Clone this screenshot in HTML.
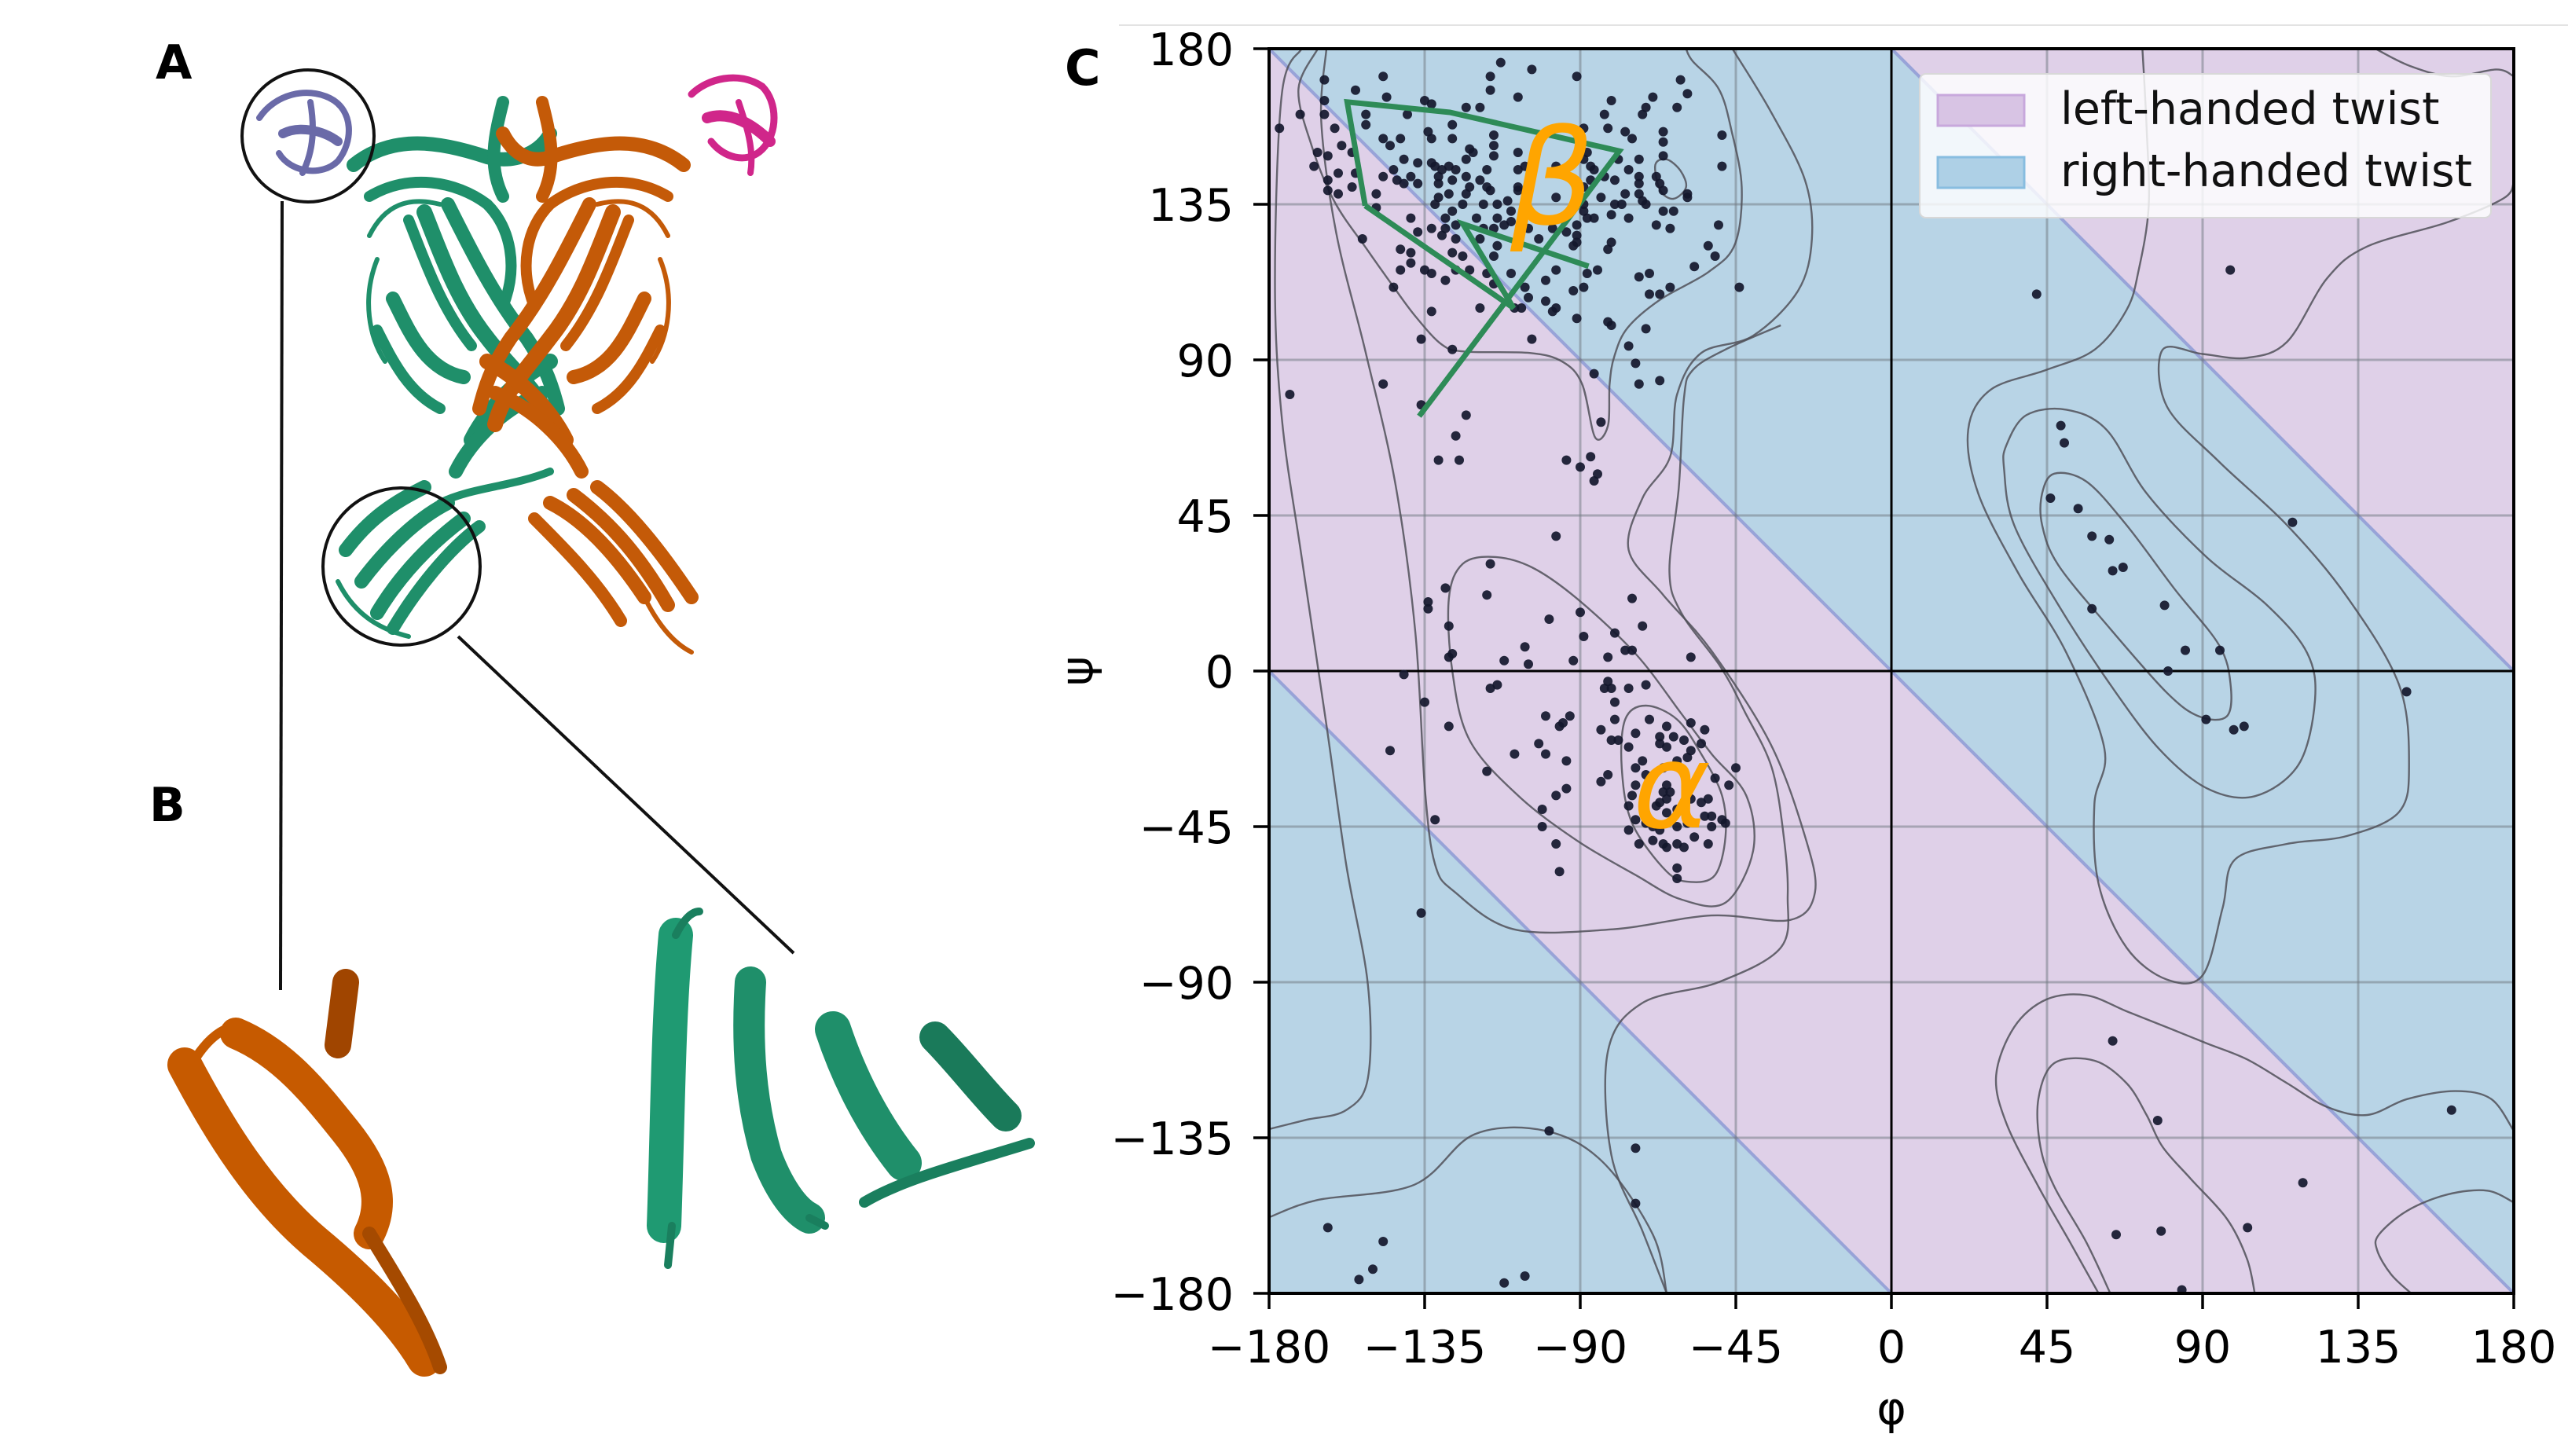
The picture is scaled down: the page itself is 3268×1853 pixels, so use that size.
<!DOCTYPE html>
<html><head><meta charset="utf-8"><style>
html,body{margin:0;padding:0;background:#fff;}
svg{display:block;}
text{font-family:"DejaVu Sans","Liberation Sans",sans-serif;}
</style></head><body>
<svg id="fig" width="3268" height="1853" viewBox="0 0 3268 1853" xmlns="http://www.w3.org/2000/svg">
<rect x="0" y="0" width="3268" height="1853" fill="#fff"/>
<line x1="1424" y1="32" x2="3268" y2="32" stroke="#e3e3e3" stroke-width="2"/>

<g id="panelA">
  <text x="198" y="100" font-size="60" font-weight="bold">A</text>
  <text x="190" y="1045" font-size="60" font-weight="bold">B</text>
  <g fill="none" stroke-linecap="round" stroke-linejoin="round">
    <g stroke="#1f8f6a">
      <path d="M450 210 C500 170 560 180 620 200 C660 210 690 190 700 170" stroke-width="18"/>
      <path d="M470 250 C520 220 580 230 620 260 C650 290 660 340 640 390" stroke-width="14"/>
      <path d="M540 270 C560 320 580 380 620 430 C650 470 690 500 700 540" stroke-width="20"/>
      <path d="M570 260 C600 320 630 380 670 430 C690 460 700 480 710 520" stroke-width="18"/>
      <path d="M520 280 C540 330 560 390 600 440" stroke-width="14"/>
      <path d="M500 380 C520 420 540 470 590 480" stroke-width="18"/>
      <path d="M480 420 C500 460 520 500 560 520" stroke-width="14"/>
      <path d="M640 130 C630 170 620 210 640 250" stroke-width="16"/>
      <path d="M600 560 C620 520 660 480 700 460" stroke-width="20"/>
      <path d="M580 600 C600 560 640 520 690 500" stroke-width="18"/>
      <path d="M560 640 C600 620 650 620 700 600" stroke-width="10"/>
      <path d="M440 700 C470 660 500 640 540 620" stroke-width="18"/>
      <path d="M460 740 C490 700 530 660 570 640" stroke-width="18"/>
      <path d="M480 780 C510 730 550 690 590 660" stroke-width="18"/>
      <path d="M500 800 C530 750 570 700 610 670" stroke-width="16"/>
      <path d="M430 740 C450 780 480 800 520 810" stroke-width="6"/>
      <path d="M470 300 C490 260 520 250 560 260" stroke-width="6"/>
      <path d="M490 460 C470 430 460 380 480 330" stroke-width="6"/>
    </g>
    <g stroke="#c45a08">
      <path d="M870 210 C820 170 760 180 700 200 C670 210 650 190 640 170" stroke-width="18"/>
      <path d="M850 250 C800 220 740 230 700 260 C670 290 660 340 680 390" stroke-width="14"/>
      <path d="M780 270 C760 320 740 380 700 430 C670 470 640 500 630 540" stroke-width="20"/>
      <path d="M750 260 C720 320 690 380 650 430 C630 460 620 480 610 520" stroke-width="18"/>
      <path d="M800 280 C780 330 760 390 720 440" stroke-width="14"/>
      <path d="M820 380 C800 420 780 470 730 480" stroke-width="18"/>
      <path d="M840 420 C820 460 800 500 760 520" stroke-width="14"/>
      <path d="M690 130 C700 170 710 210 690 250" stroke-width="16"/>
      <path d="M720 560 C700 520 660 480 620 460" stroke-width="20"/>
      <path d="M740 600 C720 560 680 520 630 500" stroke-width="18"/>
      <path d="M700 640 C740 660 780 700 820 760" stroke-width="18"/>
      <path d="M730 630 C770 660 810 700 850 770" stroke-width="18"/>
      <path d="M760 620 C800 650 840 700 880 760" stroke-width="18"/>
      <path d="M680 660 C720 700 760 740 790 790" stroke-width="16"/>
      <path d="M820 760 C840 800 860 820 880 830" stroke-width="6"/>
      <path d="M850 300 C830 260 800 250 760 260" stroke-width="6"/>
      <path d="M830 460 C850 430 860 380 840 330" stroke-width="6"/>
    </g>
    <g stroke="#d0268a">
      <path d="M880 120 C900 100 940 90 970 110 C990 130 990 170 970 190 C950 210 920 200 905 180" stroke-width="9"/>
      <path d="M900 150 C930 140 960 160 980 180" stroke-width="14"/>
      <path d="M940 130 C950 160 960 190 955 220" stroke-width="8"/>
    </g>
    <g stroke="#6a6aa8">
      <path d="M330 150 C350 120 390 110 420 125 C450 140 450 180 430 205 C410 225 370 220 355 195" stroke-width="8"/>
      <path d="M360 170 C380 160 410 165 430 180" stroke-width="12"/>
      <path d="M395 130 C400 160 400 190 385 220" stroke-width="8"/>
    </g>
  </g>
  <circle cx="392" cy="173" r="84" fill="none" stroke="#111" stroke-width="4"/>
  <circle cx="511" cy="721" r="100" fill="none" stroke="#111" stroke-width="4"/>
  <line x1="359" y1="256" x2="357" y2="1260" stroke="#111" stroke-width="4"/>
  <line x1="583" y1="810" x2="1010" y2="1213" stroke="#111" stroke-width="4"/>
  <g fill="none" stroke-linecap="round">
    <path d="M235 1355 C280 1440 330 1520 400 1580 C460 1630 510 1680 540 1730" stroke="#c65a00" stroke-width="44"/>
    <path d="M300 1315 C360 1340 400 1390 440 1440 C480 1490 490 1530 470 1570" stroke="#c65a00" stroke-width="40"/>
    <path d="M250 1345 C270 1315 290 1305 310 1305" stroke="#c65a00" stroke-width="12"/>
    <path d="M470 1570 C500 1620 540 1680 560 1740" stroke="#a54a00" stroke-width="18"/>
    <path d="M440 1250 L430 1330" stroke="#a04500" stroke-width="34"/>
  </g>
  <g fill="none" stroke-linecap="round">
    <path d="M860 1190 C850 1300 850 1420 845 1560" stroke="#1f9a72" stroke-width="44"/>
    <path d="M855 1560 L850 1610" stroke="#1a7f5e" stroke-width="10"/>
    <path d="M860 1190 C870 1170 880 1160 890 1160" stroke="#1a7f5e" stroke-width="10"/>
    <path d="M955 1250 C950 1330 955 1400 975 1470 C990 1510 1010 1540 1030 1550" stroke="#1f8f6a" stroke-width="40"/>
    <path d="M1030 1550 L1050 1560" stroke="#1a7f5e" stroke-width="10"/>
    <path d="M1060 1310 C1080 1370 1110 1430 1150 1480" stroke="#1f8f6a" stroke-width="46"/>
    <path d="M1100 1530 C1150 1500 1230 1480 1310 1455" stroke="#1a7f5e" stroke-width="14"/>
    <path d="M1190 1320 C1220 1350 1250 1390 1280 1420" stroke="#1a7a5a" stroke-width="40"/>
  </g>
</g>

<g id="chart"></g>
</svg>
<script>
const categoriesX = [-180,-135,-90,-45,0,45,90,135,180];
const tickLabelsX = ["\u2212180","\u2212135","\u221290","\u221245","0","45","90","135","180"];
const categoriesY = [-180,-135,-90,-45,0,45,90,135,180];
const tickLabelsY = ["\u2212180","\u2212135","\u221290","\u221245","0","45","90","135","180"];
const legendLabels = ["left-handed twist","right-handed twist"];

const betaPoints = [[-164,171],[-155,168],[-147,172],[-146,166],[-164,165],[-171,161],[-177,157],[-164,161],[-161,157],[-152,161],[-152,158],[-135,165],[-133,164],[-140,161],[-123,163],[-119,163],[-116,172],[-116,168],[-113,176],[-104,174],[-108,166],[-91,172],[-81,165],[-69,166],[-71,163],[-72,161],[-61,171],[-59,167],[-62,163],[-83,161],[-89,157],[-82,157],[-77,156],[-75,154],[-66,156],[-66,153],[-49,155],[-49,146],[-66,149],[-73,148],[-76,145],[-73,143],[-68,143],[-67,141],[-66,139],[-73,141],[-73,138],[-72,136],[-71,135],[-59,138],[-59,137],[-66,133],[-63,133],[-68,129],[-64,128],[-50,129],[-53,123],[-51,120],[-57,117],[-44,111],[-64,111],[-67,109],[-70,109],[-73,114],[-70,115],[-71,99],[-76,94],[-74,89],[-73,83],[-67,84],[-84,72],[-86,86],[-81,100],[-82,101],[-91,102],[-98,104],[-97,105],[-100,107],[-92,110],[-89,111],[-88,115],[-85,116],[-100,113],[-105,108],[-106,111],[-97,116],[-110,115],[-107,105],[-109,105],[-104,96],[-119,105],[-133,104],[-136,96],[-127,93],[-147,83],[-174,80],[-136,77],[-123,74],[-126,68],[-131,61],[-125,61],[-94,61],[-90,59],[-87,62],[-85,57],[-86,55],
[-167,146],[-166,150],[-163,149],[-159,152],[-156,150],[-163,142],[-160,144],[-163,139],[-160,138],[-156,140],[-155,144],[-149,138],[-147,143],[-143,142],[-149,134],[-153,125],[-139,131],[-137,127],[-133,128],[-130,126],[-129,128],[-126,125],[-142,122],[-139,121],[-139,118],[-142,116],[-135,116],[-133,115],[-129,113],[-126,116],[-127,121],[-124,120],[-122,116],[-117,115],[-115,112],[-144,111],
[-147,154],[-145,152],[-142,154],[-141,148],[-137,147],[-134,156],[-133,154],[-127,158],[-127,154],[-123,148],[-122,151],[-121,150],[-115,155],[-115,152],[-115,149],[-108,150],[-117,145],[-123,143],[-133,147],[-132,146],[-130,145],[-128,146],[-126,145],[-127,142],[-131,143],[-139,143],[-137,141],[-141,141],[-144,145],[-131,141],[-131,137],[-128,138],[-123,138],[-119,142],[-117,140],[-116,139],[-124,135],[-127,133],[-132,135],[-129,131],[-126,129],[-120,131],[-118,135],[-114,135],[-111,136],[-110,133],[-114,131],[-112,129],[-115,128],[-110,130],[-108,145],[-106,146],[-108,140],[-108,139],[-118,128],[-119,125],[-114,123],[-115,120],[-105,128],[-102,125],[-98,128],[-94,127],[-91,129],[-91,126],[-92,123],[-91,124],[-97,137],[-97,146],[-89,140],[-87,146],[-87,142],[-86,145],[-83,143],[-80,142],[-80,135],[-78,135],[-84,137],[-86,131],[-81,132],[-76,131],[-81,124],[-82,122],[-89,135],[-89,133],[-88,131],[-77,138],[-88,150],[-89,148],[-79,148],[-122,140]];

const alphaPoints = [[-97,39],[-116,31],[-129,24],[-117,22],[-134,20],[-134,18],[-128,13],[-127,5],[-128,4],[-112,3],[-106,7],[-105,2],[-99,15],[-90,17],[-89,10],[-92,3],[-80,11],[-82,4],[-77,6],[-75,6],[-75,21],[-72,13],[-58,4],[-141,-1],[-135,-9],[-128,-16],[-145,-23],[-116,-5],[-114,-4],[-100,-13],[-96,-16],[-93,-13],[-95,-15],[-102,-21],[-100,-24],[-109,-24],[-94,-26],[-117,-29],[-82,-30],[-84,-32],[-94,-34],[-97,-36],[-101,-40],[-101,-45],[-97,-50],[-96,-58],[-132,-43],[-136,-70],[-82,-3],[-81,-5],[-83,-5],[-76,-5],[-71,-4],[-80,-9],[-80,-14],[-84,-17],[-81,-20],[-79,-20],[-76,-22],[-74,-18],[-70,-14],[-65,-16],[-58,-15],[-54,-17],[-55,-21],[-67,-19],[-63,-19],[-60,-20],[-67,-21],[-65,-22],[-58,-23],[-59,-25],[-62,-26],[-72,-26],[-74,-28],[-71,-30],[-66,-28],[-65,-33],[-66,-35],[-64,-35],[-67,-38],[-65,-37],[-62,-40],[-65,-41],[-68,-39],[-74,-33],[-75,-36],[-76,-39],[-74,-43],[-71,-44],[-69,-45],[-67,-46],[-62,-45],[-59,-44],[-55,-38],[-53,-37],[-54,-42],[-52,-42],[-52,-45],[-49,-43],[-48,-44],[-51,-31],[-47,-33],[-45,-28],[-76,-46],[-73,-50],[-69,-49],[-66,-50],[-65,-51],[-62,-50],[-60,-51],[-57,-48],[-53,-50],[-62,-57],[-62,-60],[-58,-37]];

const otherPoints = [[42,109],[98,116],[49,71],[50,66],[46,50],[54,47],[58,39],[63,38],[64,29],[67,30],[58,18],[79,19],[85,6],[95,6],[80,0],[91,-14],[99,-17],[102,-16],[116,43],[149,-6],[64,-107],[77,-130],[119,-148],[103,-161],[78,-162],[65,-163],[84,-179],[162,-127],[-99,-133],[-74,-138],[-74,-154],[-163,-161],[-147,-165],[-150,-173],[-154,-176],[-112,-177],[-106,-175]];

const contourL1 = [[-170.6,180],[-176.3,167],[-178.3,113],[-176.3,73],[-170.6,33],[-163.4,-15.6],[-157.7,-55.9],[-151.4,-90.8],[-151.4,-117.7],[-157.7,-127],[-169.2,-129.8],[-180,-132.5]];
const contourL2 = [[-163.4,180],[-164.9,159],[-160.6,126.8],[-152,91.9],[-143.5,54.3],[-137.7,11.3],[-134.9,-34.4],[-132,-55.9],[-126.3,-63.9],[-109.2,-74.7],[-80.6,-74.7],[-52.1,-70.7],[-29.3,-72],[-22.1,-63.9],[-25,-47.8],[-35,-21],[-52.1,5.9],[-66,22],[-76,35],[-72,50],[-64,62],[-62,80],[-55,92],[-40,97],[-27,110],[-23,125],[-25,142],[-35,162],[-46,180]];
const contourL3 = [[-32,100],[-48,93],[-57.5,87],[-60,79],[-61.5,53],[-64.2,28.8],[-60.7,16.7],[-49.4,1.2],[-42.4,-11.8],[-34.6,-28],[-31.1,-48.3],[-30,-65],[-32,-80],[-50,-90],[-72,-96],[-82,-110],[-81,-140],[-72,-162],[-65,-180]];
const contourBetaOuter = [[-165.9,180],[-171.5,168.3],[-167.7,152],[-161.1,135.8],[-151.7,122],[-144.2,111.4],[-137.6,102.5],[-130,94.4],[-123.4,92.4],[-104.6,92],[-95.2,89.5],[-89.5,83.1],[-85.7,67.6],[-82,70.9],[-81.5,83.1],[-80.1,91.2],[-76.3,99.3],[-66.9,107.4],[-52.8,115.5],[-45.2,123.6],[-43.3,139.9],[-46.2,156.1],[-49.9,168.3],[-57.5,176.4],[-59.4,180]];
const contourBetaInner = [[-68.3,146.4],[-65,148],[-61,144.7],[-59.4,139.9],[-63.1,136.6],[-66.9,139.1]];
const contourAlpha1 = [[-71,-10],[-77,-14],[-78,-28],[-75,-44],[-65,-58],[-58,-61],[-51,-59],[-48,-48],[-49,-36],[-55,-24],[-62,-14]];
const contourAlpha2 = [[-115,33],[-124,31],[-128,21],[-127,0],[-122,-20],[-108,-36],[-91,-49],[-74,-59],[-61,-66],[-48,-67],[-40,-52],[-42,-36],[-52,-24],[-61,-12],[-74,5],[-91,21],[-104,30]];
const contourLBottom = [[-180,-158],[-166,-153],[-138,-148.6],[-120.6,-134],[-100,-133],[-83.5,-142],[-69,-163],[-65,-180]];
const contourR1 = [[43.6,51.4],[47.1,57.1],[56.4,54.8],[68,42.2],[81.9,23.7],[94.7,7.6],[98.1,-3.9],[97,-13.1],[88.9,-13.1],[79.6,-6.2],[63.3,12.2],[48.3,30.6],[43.6,42.2]];
const contourR2 = [[33.2,65.2],[39,74],[50.6,75.6],[62.2,69.8],[73.8,51.4],[91.2,32.9],[108.6,19.1],[120.2,5.3],[122.5,-8.5],[117.8,-27],[105.1,-36.2],[91.2,-33.9],[77.3,-22.4],[63.3,-3.9],[48.3,19.1],[35.5,42.2],[32.6,58.3]];
const contourR3 = [[72.6,180],[73.8,157.4],[74.4,134.4],[71.5,115.9],[68,104.4],[58.7,92.9],[44.8,87.1],[28.6,81.3],[22.2,69.8],[25.1,51.4],[36.7,28.3],[50.6,5.3],[61.6,-22.4],[58.7,-38.5],[59.9,-61.5],[68,-80],[79.6,-89.2],[90,-88],[95.8,-68.5],[99.3,-54.6],[114.4,-50],[131.8,-47.7],[146.8,-40.8],[149.7,-27],[146.8,-3.9],[131.8,21.4],[114.4,42.2],[94.7,60.6],[79.6,76.7],[78.4,92.9],[90,91.7],[102.8,90.6],[114.4,95.2],[126,113.6],[137.6,122.8],[160.8,129.8],[177,136.7],[180,141.3]];
const contourRb1 = [[59.9,-180],[51.7,-165.3],[42.5,-149.1],[33.2,-130.7],[30.3,-116.9],[35.5,-103],[44.8,-95],[56.4,-93.8],[68,-98.4],[79.6,-103],[91.2,-107.7],[102.8,-112.3],[114.4,-119.2],[126,-126.1],[137.6,-128.4],[149.2,-123.8],[163.1,-121.5],[173.5,-123.8],[180,-133]];
const contourRb2 = [[63.3,-180],[56.4,-165.3],[47.1,-149.1],[43.1,-137.6],[42.5,-123.8],[47.1,-113.4],[58.7,-112.7],[68,-119.2],[73.8,-128.4],[78.4,-137.6],[86.5,-146.8],[97,-158.4],[102.8,-169.9],[105.1,-180]];
const contourRb3 = [[180,-153.7],[172.3,-150.3],[160.8,-151.4],[149.2,-156.1],[141,-163],[140.5,-167.6],[144.5,-174.5],[150.3,-180]];
const contourTR = [[140,180],[150,175],[162,172],[175,174],[180,172]];

const greenPath1 = [[-152.2,134.6],[-157.4,164.6],[-127.7,161.6],[-78.7,150.4],[-136.6,73.7]];
const greenPath2 = [[-152.2,134.6],[-109.3,105],[-123.9,129.3],[-87.6,117.1]];

const L=1615, T=62, S=4.4;
function X(phi){return L+(phi+180)*S;}
function Y(psi){return T+(180-psi)*S;}
const NS="http://www.w3.org/2000/svg";
const chart=document.getElementById('chart');
function mk(tag,attrs,parent){const e=document.createElementNS(NS,tag);for(const k in attrs)e.setAttribute(k,attrs[k]);(parent||chart).appendChild(e);return e;}
function poly(pts){return pts.map(p=>X(p[0]).toFixed(1)+','+Y(p[1]).toFixed(1)).join(' ');}
function smooth(pts,closed){
  const P=pts.map(p=>[X(p[0]),Y(p[1])]);const n=P.length;
  let d='M'+P[0][0].toFixed(1)+' '+P[0][1].toFixed(1);
  const last=closed?n:n-1;
  for(let i=0;i<last;i++){
    const p0=P[closed?(i-1+n)%n:Math.max(i-1,0)],p1=P[i],p2=P[(i+1)%n],p3=P[closed?(i+2)%n:Math.min(i+2,n-1)];
    const c1=[p1[0]+(p2[0]-p0[0])/6,p1[1]+(p2[1]-p0[1])/6],c2=[p2[0]-(p3[0]-p1[0])/6,p2[1]-(p3[1]-p1[1])/6];
    d+=' C'+c1.map(v=>v.toFixed(1)).join(' ')+' '+c2.map(v=>v.toFixed(1)).join(' ')+' '+p2[0].toFixed(1)+' '+p2[1].toFixed(1);
  }
  return d+(closed?'Z':'');
}
const PINK="#dfd0e8", BLUE="#b8d4e6";
const defs=mk('defs',{});
const cp=mk('clipPath',{id:'plotclip'},defs);
mk('rect',{x:L,y:T,width:360*S,height:360*S},cp);

const regions=[
 [[-180,180],[0,180],[0,0],BLUE,'right-handed-region-tl'],
 [[-180,180],[-180,0],[0,0],PINK,'left-handed-region-tl'],
 [[-180,0],[0,0],[0,-180],PINK,'left-handed-region-bl'],
 [[-180,0],[-180,-180],[0,-180],BLUE,'right-handed-region-bl'],
 [[0,0],[180,0],[0,180],BLUE,'right-handed-region-tr'],
 [[0,180],[180,180],[180,0],PINK,'left-handed-region-tr'],
 [[0,0],[180,0],[180,-180],BLUE,'right-handed-region-br'],
 [[0,0],[0,-180],[180,-180],PINK,'left-handed-region-br']];
for(const r of regions){
  const e=mk('polygon',{points:poly(r.slice(0,3)),fill:r[3]});
  
  
}
const diags=[[[-180,180],[0,0]],[[-180,0],[0,-180]],[[0,180],[180,0]],[[0,0],[180,-180]]];
for(const d of diags){
  const e=mk('line',{x1:X(d[0][0]),y1:Y(d[0][1]),x2:X(d[1][0]),y2:Y(d[1][1]),stroke:'#98a3d8','stroke-width':4});
  
  
}
for(const v of categoriesX){
  if(v===0||v===-180||v===180)continue;
  const e=mk('line',{x1:X(v),y1:T,x2:X(v),y2:T+360*S,stroke:'#707880','stroke-opacity':0.5,'stroke-width':3});
  
  
}
for(const v of categoriesY){
  if(v===0||v===-180||v===180)continue;
  const e=mk('line',{x1:L,y1:Y(v),x2:L+360*S,y2:Y(v),stroke:'#707880','stroke-opacity':0.5,'stroke-width':3});
  
  
}
const cg=mk('g',{'clip-path':'url(#plotclip)',fill:'none',stroke:'#505058','stroke-width':2.4,'stroke-opacity':0.85});


const contours=[[contourL1,false],[contourL2,false],[contourL3,false],[contourBetaOuter,false],[contourBetaInner,true],[contourAlpha1,true],[contourAlpha2,true],[contourLBottom,false],[contourR1,true],[contourR2,true],[contourR3,false],[contourRb1,false],[contourRb2,false],[contourRb3,false],[contourTR,false]];
for(const c of contours){
  const e=mk('path',{d:smooth(c[0],c[1])},cg);
  
  
}
let e=mk('line',{x1:X(0),y1:T,x2:X(0),y2:T+360*S,stroke:'#000','stroke-width':3});


e=mk('line',{x1:L,y1:Y(0),x2:L+360*S,y2:Y(0),stroke:'#000','stroke-width':3});


const pg=mk('g',{fill:'#14172c','fill-opacity':0.92,'clip-path':'url(#plotclip)'});


for(const set of [betaPoints,alphaPoints,otherPoints]){
  for(const p of set){
    const c=mk('circle',{cx:X(p[0]).toFixed(1),cy:Y(p[1]).toFixed(1),r:6},pg);
    
    
  }
}
for(const gp of [greenPath1,greenPath2]){
  const g=mk('polyline',{points:poly(gp),fill:'none',stroke:'#2e8b57','stroke-width':7,'stroke-linejoin':'miter'});
  
  
}
e=mk('text',{x:1922,y:285,'font-size':168,fill:'#ffa500','font-style':'italic'});
e.textContent='β';


e=mk('text',{x:2078,y:1053,'font-size':150,fill:'#ffa500','font-style':'italic'});
e.textContent='α';


e=mk('rect',{x:L,y:T,width:360*S,height:360*S,fill:'none',stroke:'#000','stroke-width':4});


categoriesX.forEach((v,i)=>{
  const t=mk('line',{x1:X(v),y1:T+360*S,x2:X(v),y2:T+360*S+20,stroke:'#000','stroke-width':3.5});
  
  
  const tx=mk('text',{x:X(v),y:1734,'font-size':57,'text-anchor':'middle',fill:'#000'});
  tx.textContent=tickLabelsX[i];
  
  
});
categoriesY.forEach((v,i)=>{
  const t=mk('line',{x1:L-20,y1:Y(v),x2:L,y2:Y(v),stroke:'#000','stroke-width':3.5});
  
  
  const tx=mk('text',{x:1570,y:Y(v)+21,'font-size':57,'text-anchor':'end',fill:'#000'});
  tx.textContent=tickLabelsY[i];
  
  
});
e=mk('text',{x:X(0),y:1812,'font-size':57,'text-anchor':'middle'});
e.textContent='φ';


e=mk('text',{x:0,y:0,'font-size':57,'text-anchor':'middle',transform:'translate(1390,'+Y(0)+') rotate(-90)'});
e.textContent='ψ';


e=mk('text',{x:1355,y:108,'font-size':62,'font-weight':'bold'});
e.textContent='C';


const lg=mk('g',{});


mk('rect',{x:2443,y:94,width:727,height:183,rx:8,fill:'#ffffff','fill-opacity':0.82,stroke:'#d8d8d8','stroke-width':2},lg);
const legendColors=[['#d8c4e4','#c8a8dc'],['#aed0e6','#88bde0']];
legendLabels.forEach((lab,i)=>{
  const y0=121+i*79;
  const sw=mk('rect',{x:2466,y:y0,width:110,height:39,fill:legendColors[i][0],stroke:legendColors[i][1],'stroke-width':3},lg);
  
  
  const t=mk('text',{x:2622,y:y0+37,'font-size':57,fill:'#111'},lg);
  t.textContent=lab;
  
  
});
</script>
</body></html>
